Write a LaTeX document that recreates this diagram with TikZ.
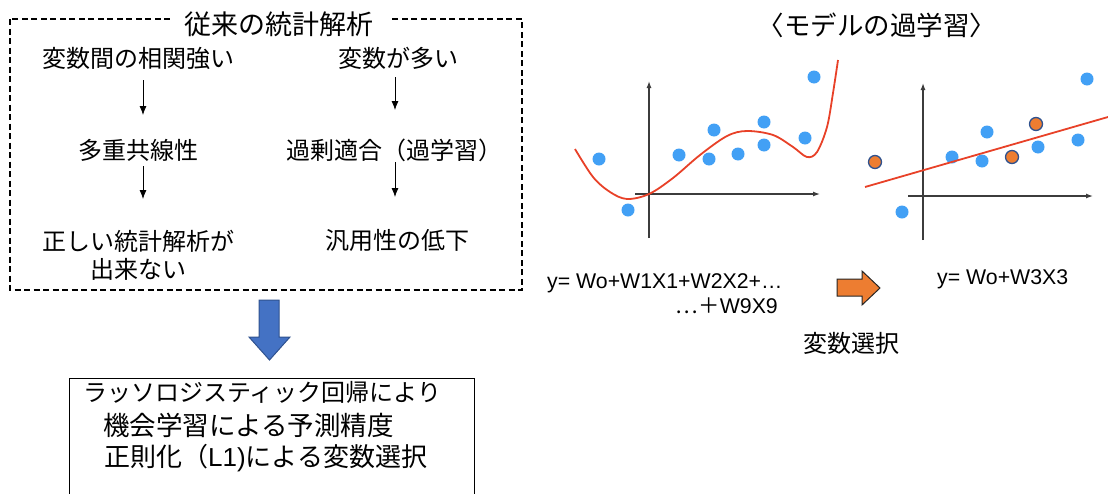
\documentclass[tikz,border=0pt]{standalone}
\usepackage{fontspec}
\setmainfont{Liberation Sans}
\newfontfamily\jp{Noto Sans CJK JP}
\newfontfamily\lat{Liberation Sans}
\usetikzlibrary{arrows.meta,calc}
\definecolor{dotblue}{RGB}{66,160,245}
\definecolor{curvered}{RGB}{232,65,40}
\definecolor{ptorange}{RGB}{237,125,49}
\definecolor{ptborder}{RGB}{47,82,143}
\definecolor{bigblue}{RGB}{68,114,196}
\definecolor{axisgray}{RGB}{60,60,60}
\begin{document}
\begin{tikzpicture}[x=1pt,y=-1pt,
  jptxt/.style={font=\jp\fontsize{24}{28}\selectfont, inner sep=0pt},
  jptitle/.style={font=\jp\fontsize{27}{30}\selectfont, inner sep=0pt},
  eqtxt/.style={font=\lat\fontsize{21.3}{24}\selectfont, inner sep=0pt},
  smallarr/.style={-{Latex[length=9pt,width=7pt]}, line width=0.8pt, black},
  dashbox/.style={draw=black, line width=1.2pt, dash pattern=on 6pt off 3.5pt},
  axisline/.style={axisgray, line width=1.3pt, -{Latex[length=7pt,width=5pt]}},
  bdot/.style={fill=dotblue},
  odot/.style={fill=ptorange, draw=ptborder, line width=1.3pt},
  fitcurve/.style={curvered, line width=1.8pt}
]
\useasboundingbox (0,0) rectangle (1108,493);

% ---------- left dashed box ----------
\draw[dashbox] (10,19) rectangle (522,290);
\node[jptitle, fill=white, inner xsep=15pt, inner ysep=3pt] (title) at (279,24) {従来の統計解析};

\node[jptxt] (a1) at (138,58) {変数間の相関強い};
\node[jptxt] (a2) at (138,150) {多重共線性};
\node[jptxt] (a3) at (138,241) {正しい統計解析が};
\node[jptxt] (a4) at (138,269) {出来ない};

\node[jptxt] (b1) at (398,58) {変数が多い};
\node[jptxt] (b2) at (394,150) {過剰適合（過学習）};
\node[jptxt] (b3) at (397,240) {汎用性の低下};

\draw[smallarr] ($(a1.center)+(5,22)$) -- ($(a2.center)+(5,-35)$);
\draw[smallarr] ($(a2.center)+(5,16)$) -- ($(a3.center)+(5,-42)$);
\draw[smallarr] ($(b1.center)+(-3,19)$) -- ($(b2.center)+(1,-40)$);
\draw[smallarr] ($(b2.center)+(1,12)$) -- ($(b3.center)+(-2,-43)$);

% ---------- big blue arrow ----------
\draw[fill=bigblue, draw=ptborder, line width=1pt]
  (259,300) -- (279,300) -- (279,337) -- (290,337) -- (269.5,360) -- (249,337) -- (259,337) -- cycle;

% ---------- bottom box ----------
\draw[line width=1pt] (69,496) -- (69,378) -- (474,378) -- (474,496);
\node[jptxt, anchor=west] (c1) at (83,392) {ラッソロジスティック回帰により};
\node[jptxt, anchor=west, font=\jp\fontsize{26.5}{30}\selectfont] (c2) at (103,425) {機会学習による予測精度};
\node[jptxt, anchor=west, font=\jp\fontsize{26}{30}\selectfont] (c3) at (104,458) {正則化（{\lat L1)}による変数選択};

% ---------- right title ----------
\node[jptxt, font=\jp\fontsize{26.5}{30}\selectfont] (rtitle) at (877,25) {〈モデルの過学習〉};

% ---------- graph 1 ----------
\draw[axisline] (649,238) -- (649,81);
\draw[axisline] (635,194) -- (820,194);
\draw[fitcurve] plot[smooth, tension=0.55] coordinates {
  (575,149) (593,177) (610,192) (627,199) (649,194) (673,178) (700,155)
  (727,136) (747,131) (773,135) (793,147) (807,157) (817,152) (827,127)
  (833,93) (838,60)};
\foreach \p in {(599,159),(628,210),(679,155),(714,130),(709,159),(738,154),(764,122),(764,145),(805,138),(814,77)}
  \fill[bdot] \p circle[radius=6.5pt];

% ---------- graph 2 ----------
\draw[axisline] (923,240) -- (923,83);
\draw[axisline] (908,196) -- (1093,196);
\foreach \p in {(902,212),(952,157),(987,132),(982,161),(1038,147),(1078,140),(1087,79)}
  \fill[bdot] \p circle[radius=6.5pt];
\draw[fitcurve] (865,187) -- (1108,117);
\foreach \p in {(875,162),(1012,157),(1036,124)}
  \filldraw[odot] \p circle[radius=6.5pt];

% ---------- equations ----------
\node[eqtxt, anchor=base west] (eq1) at (547,288) {y= Wo+W1X1+W2X2+…};
\node[eqtxt, anchor=base east] (eq2) at (778,313) {{\jp …＋}W9X9};
\node[eqtxt, anchor=base west] (eq3) at (937,284) {y= Wo+W3X3};
\node[jptxt] (sel) at (851,343) {変数選択};

% ---------- orange arrow ----------
\draw[fill=ptorange, draw=black!85, line width=1pt]
  (837,279) -- (862,279) -- (862,271) -- (880,288) -- (862,305) -- (862,296) -- (837,296) -- cycle;

\end{tikzpicture}
\end{document}
